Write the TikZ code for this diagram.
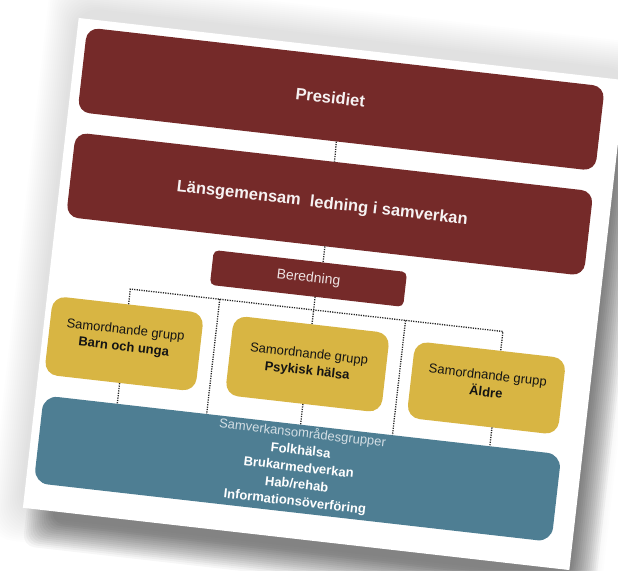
\documentclass[tikz,border=0pt]{standalone}
\usepackage{fontspec}
\setmainfont{Liberation Sans}
\definecolor{boxred}{HTML}{752A29}
\definecolor{boxgold}{HTML}{D8B543}
\definecolor{boxblue}{HTML}{4E7E93}
\definecolor{paleblue}{HTML}{D3DEE4}
\definecolor{dotgray}{HTML}{262626}
\definecolor{offwhite}{HTML}{F6F2F2}
\definecolor{berwhite}{HTML}{EDE2E2}
\definecolor{goldtext}{HTML}{141414}
\begin{document}
\begin{tikzpicture}[x=1pt,y=-1pt,
  bigbox/.style={fill=boxred, rounded corners=12pt, minimum width=521pt, minimum height=85pt, inner sep=0pt},
  bigtext/.style={text=offwhite, font=\fontsize{16.5}{20}\selectfont\bfseries, inner sep=0pt},
  berbox/.style={fill=boxred, rounded corners=5pt, minimum width=194.5pt, minimum height=35pt, inner sep=0pt,
    text=berwhite, font=\fontsize{14}{17}\selectfont},
  goldbox/.style={fill=boxgold, rounded corners=13pt, inner sep=0pt},
  goldlbl/.style={text=goldtext, align=center, inner sep=0pt, font=\fontsize{13}{17}\selectfont},
  bluebox/.style={fill=boxblue, rounded corners=14pt, minimum width=521pt, minimum height=88pt, inner sep=0pt},
  bluelbl/.style={text=white, align=center, inner sep=0pt, font=\fontsize{13}{17.2}\selectfont},
  dotline/.style={draw=dotgray, line width=1.3pt, dash pattern=on 1.2pt off 1.2pt}]
\path[use as bounding box, fill=white] (0,0) rectangle (618,570);
\begin{scope}[rotate around={-6.5:(320,285)}, transform shape]
  % soft light shadow all round
  \foreach \k in {0,...,14}{
    \fill[black, opacity=0.009, rounded corners=25pt] (18+2*\k,8+2*\k) rectangle (634-2*\k,574-2*\k);
  }
  % darker drop shadow bottom right
  \foreach \k in {0,...,13}{
    \fill[black, opacity=0.037, rounded corners=12pt] (54+2*\k,67+2*\k) rectangle (628-2*\k,578-2*\k);
  }
  % page
  \fill[white] (50,47) rectangle (600,540);

  % boxes
  \node[bigbox] (pres) at (320,98) {};
  \node[bigtext] (prest) at (309,97.5) {Presidiet};
  \node[bigbox] (led) at (320.5,203.5) {};
  \node[bigtext] (ledt) at (313,204) {Länsgemensam\ \ ledning i samverkan};
  \node[berbox] (bered) at (307.8,279.8) {Beredning};

  \node[goldbox, minimum width=152pt, minimum height=79pt] (gL) at (132,365.5) {};
  \node[goldbox, minimum width=157pt, minimum height=80pt] (gM) at (316.5,365) {};
  \node[goldbox, minimum width=152pt, minimum height=77pt] (gR) at (497,368.5) {};
  \node[goldlbl] (gLt) at (132,361) {Samordnande grupp\\\textbf{Barn och unga}};
  \node[goldlbl] (gMt) at (317,364) {Samordnande grupp\\\textbf{Psykisk hälsa}};
  \node[goldlbl] (gRt) at (497,364) {Samordnande grupp\\\textbf{Äldre}};

  \node[bluebox] (blue) at (318.5,470) {};
  \node[bluelbl] (bluet) at (319.5,469) {\textcolor{paleblue}{Samverkansområdesgrupper}\\
    \textbf{Folkhälsa}\\\textbf{Brukarmedverkan}\\\textbf{Hab/rehab}\\\textbf{Informationsöverföring}};

  % connector points
  \coordinate (lb) at (320.5,262.3);
  \coordinate (bm) at (316.5,297.3);
  \coordinate (hl) at (132,310.5);
  \coordinate (hr) at (507,310.5);
  \coordinate (va) at (222,310.5);
  \coordinate (vb) at (409,310.5);
  \coordinate (vat) at (222,426);
  \coordinate (vbt) at (409,426);
  \coordinate (bl1) at (132,426);
  \coordinate (bl2) at (316.5,426);
  \coordinate (rgt) at (507,330);
  \coordinate (rgb) at (507,407);
  \coordinate (bl3) at (507,426);

  % connectors
  \draw[dotline] (pres.south) -- (led.north);
  \draw[dotline] (led.south) -- (lb);
  \draw[dotline] (bm) -- (gM.north);
  \draw[dotline] (gL.north) -- (hl) -- (hr) -- (rgt);
  \draw[dotline] (va) -- (vat);
  \draw[dotline] (vb) -- (vbt);
  \draw[dotline] (gL.south) -- (bl1);
  \draw[dotline] (gM.south) -- (bl2);
  \draw[dotline] (rgb) -- (bl3);
\end{scope}
\end{tikzpicture}
\end{document}
